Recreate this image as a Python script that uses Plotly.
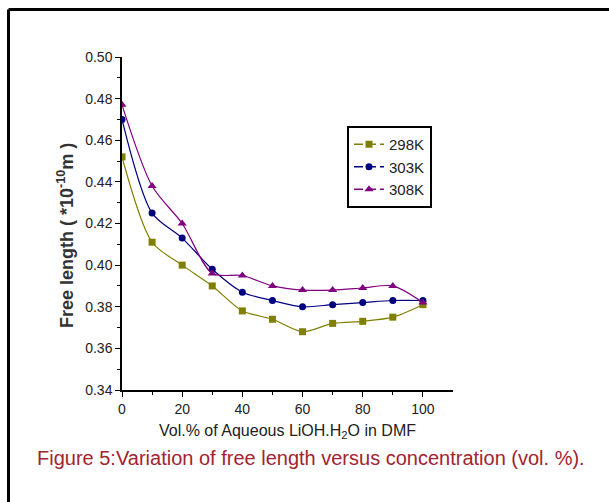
import plotly.graph_objects as go

vol = [0, 10, 20, 30, 40, 50, 60, 70, 80, 90, 100]
fl_298 = [0.452, 0.411, 0.400, 0.390, 0.378, 0.374, 0.368, 0.372, 0.373, 0.375, 0.381]
fl_303 = [0.470, 0.425, 0.413, 0.398, 0.387, 0.383, 0.380, 0.381, 0.382, 0.383, 0.383]
fl_308 = [0.477, 0.438, 0.420, 0.396, 0.395, 0.390, 0.388, 0.388, 0.389, 0.390, 0.382]
series_names = ["298K", "303K", "308K"]
series_values = [fl_298, fl_303, fl_308]
colors = ["#808000", "#000080", "#800080"]
symbols = ["square", "circle", "triangle-up"]
msizes = [7, 7, 8]
y_ticks = [0.34, 0.36, 0.38, 0.40, 0.42, 0.44, 0.46, 0.48, 0.50]
x_ticks = [0, 20, 40, 60, 80, 100]

fig = go.Figure()
for name, vals, c, s, ms in zip(series_names, series_values, colors, symbols, msizes):
    fig.add_trace(go.Scatter(
        x=vol, y=vals, mode="lines+markers", name=name, showlegend=False,
        line=dict(color=c, width=1.2, shape="spline", smoothing=0.8),
        marker=dict(symbol=s, size=ms, color=c),
    ))
for name, c, s, ms in zip(series_names, colors, symbols, msizes):
    fig.add_trace(go.Scatter(
        x=[None], y=[None], mode="lines+markers", name=name,
        line=dict(color=c, width=1.5, dash="9px,4px"),
        marker=dict(symbol=s, size=ms, color=c),
    ))

L, R, T, B = 122, 453, 57, 390
W, H = 609, 502

def px(xp):
    return (xp - L) / (R - L)

def py(yp):
    return (B - yp) / (B - T)

fig.update_layout(
    width=W, height=H,
    margin=dict(l=L, r=W - R, t=T, b=H - B),
    paper_bgcolor="white", plot_bgcolor="white",
    font=dict(family="Liberation Sans, Arial, sans-serif", size=14, color="#222222"),
    xaxis=dict(range=[0, 110], tickvals=x_ticks, ticks="outside", ticklen=5, tickwidth=1.2,
               tickcolor="#000", showline=True, linecolor="#000", linewidth=1.5,
               showgrid=False, zeroline=False,
               minor=dict(tickvals=[10, 30, 50, 70, 90], ticks="outside", ticklen=3, tickcolor="#000"),
               tickfont=dict(size=14, color="#222")),
    yaxis=dict(range=[0.34, 0.50], tickvals=y_ticks, tickformat=".2f", ticks="outside",
               ticklen=5, tickwidth=1.2, tickcolor="#000", showline=True, linecolor="#000",
               linewidth=1.5, showgrid=False, zeroline=False,
               minor=dict(tickvals=[0.35, 0.37, 0.39, 0.41, 0.43, 0.45, 0.47, 0.49],
                          ticks="outside", ticklen=3, tickcolor="#000"),
               tickfont=dict(size=14, color="#222")),
    legend=dict(x=px(347), y=py(126), xanchor="left", yanchor="top",
                bordercolor="#000", borderwidth=2, bgcolor="white",
                font=dict(size=15, color="#222"), itemwidth=30,
                tracegroupgap=0),
    shapes=[
        dict(type="line", xref="paper", yref="paper", x0=px(8.5), x1=px(620),
             y0=py(9.5), y1=py(9.5), line=dict(color="#000", width=3)),
        dict(type="line", xref="paper", yref="paper", x0=px(8.5), x1=px(8.5),
             y0=py(9.5), y1=py(520), line=dict(color="#000", width=3)),
    ],
    annotations=[
        dict(text="<b>Free length ( *10<sup>-10</sup>m )</b>", textangle=-90,
             xref="paper", yref="paper", x=px(65), y=py(236), xanchor="center",
             yanchor="middle", showarrow=False, font=dict(size=18, color="#333")),
        dict(text="Vol.% of Aqueous LiOH.H<sub>2</sub>O in DMF",
             xref="paper", yref="paper", x=px(287), y=py(431), xanchor="center",
             yanchor="middle", showarrow=False, font=dict(size=16, color="#222")),
        dict(text="Figure 5:Variation of free length versus concentration (vol. %).",
             xref="paper", yref="paper", x=px(311), y=py(458), xanchor="center",
             yanchor="middle", showarrow=False,
             font=dict(family="Liberation Sans Narrow, Arial Narrow, Liberation Sans, sans-serif",
                       size=20, color="#a3232f")),
    ],
)

fig.write_html("out.html")
